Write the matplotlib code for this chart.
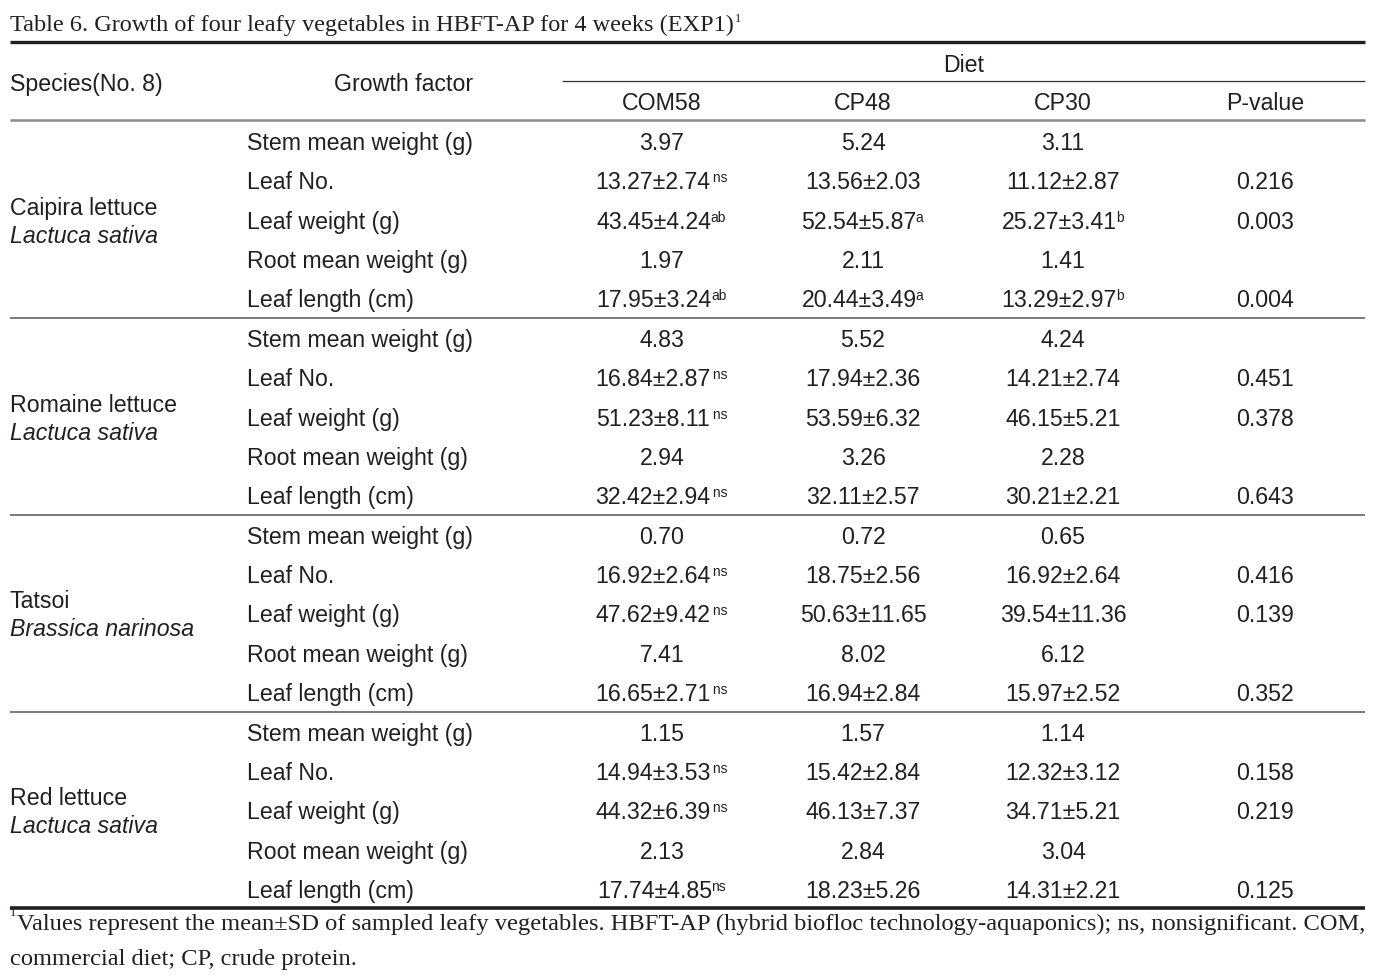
import matplotlib
matplotlib.use('Agg')
import matplotlib.pyplot as plt

# table contents
title = "Table 6. Growth of four leafy vegetables in HBFT-AP for 4 weeks (EXP1)"
diets = ["COM58", "CP48", "CP30"]
factors = ["Stem mean weight (g)", "Leaf No.", "Leaf weight (g)",
           "Root mean weight (g)", "Leaf length (cm)"]
species = ["Caipira lettuce", "Romaine lettuce", "Tatsoi", "Red lettuce"]
latin = ["Lactuca sativa", "Lactuca sativa", "Brassica narinosa", "Lactuca sativa"]

com58 = [["3.97", "13.27±2.74", "43.45±4.24", "1.97", "17.95±3.24"],
         ["4.83", "16.84±2.87", "51.23±8.11", "2.94", "32.42±2.94"],
         ["0.70", "16.92±2.64", "47.62±9.42", "7.41", "16.65±2.71"],
         ["1.15", "14.94±3.53", "44.32±6.39", "2.13", "17.74±4.85"]]
com58_sup = [["", " ns", "ab", "", "ab"],
             ["", " ns", " ns", "", " ns"],
             ["", " ns", " ns", "", " ns"],
             ["", " ns", " ns", "", "ns"]]
cp48 = [["5.24", "13.56±2.03", "52.54±5.87", "2.11", "20.44±3.49"],
        ["5.52", "17.94±2.36", "53.59±6.32", "3.26", "32.11±2.57"],
        ["0.72", "18.75±2.56", "50.63±11.65", "8.02", "16.94±2.84"],
        ["1.57", "15.42±2.84", "46.13±7.37", "2.84", "18.23±5.26"]]
cp48_sup = [["", "", "a", "", "a"], [""] * 5, [""] * 5, [""] * 5]
cp30 = [["3.11", "11.12±2.87", "25.27±3.41", "1.41", "13.29±2.97"],
        ["4.24", "14.21±2.74", "46.15±5.21", "2.28", "30.21±2.21"],
        ["0.65", "16.92±2.64", "39.54±11.36", "6.12", "15.97±2.52"],
        ["1.14", "12.32±3.12", "34.71±5.21", "3.04", "14.31±2.21"]]
cp30_sup = [["", "", "b", "", "b"], [""] * 5, [""] * 5, [""] * 5]
pvals = [["", "0.216", "0.003", "", "0.004"],
         ["", "0.451", "0.378", "", "0.643"],
         ["", "0.416", "0.139", "", "0.352"],
         ["", "0.158", "0.219", "", "0.125"]]

foot1 = "Values represent the mean±SD of sampled leafy vegetables. HBFT-AP (hybrid biofloc technology-aquaponics); ns, nonsignificant. COM,"
foot2 = "commercial diet; CP, crude protein."

SANS = 'Liberation Sans'
SERIF = 'Liberation Serif'
INK = '#231f20'
FS = 16.7

fig = plt.figure(figsize=(13.84, 9.77), dpi=100)
ax = fig.add_axes([0, 0, 1, 1])
ax.set_xlim(0, 1384)
ax.set_ylim(977, 0)
ax.axis('off')
r = fig.canvas.get_renderer()


def width(t):
    return t.get_window_extent(r).width


def fit(t, target):
    # shrink/grow font so the line spans the target width
    t.set_fontsize(t.get_fontsize() * target / width(t))


def cell(cx, y, main, sup=""):
    t = ax.text(0, y, main, ha='left', va='baseline', fontsize=FS, family=SANS, color=INK)
    w = width(t)
    ws = 0
    s = None
    if sup:
        s = ax.text(0, y - 7, sup, ha='left', va='baseline', fontsize=FS * 0.6,
                    family=SANS, color=INK)
        ws = width(s)
    x0 = cx - (w + ws) / 2
    t.set_x(x0)
    if s is not None:
        s.set_x(x0 + w - 1)


# title
tt = ax.text(10, 31, title, ha='left', va='baseline', fontsize=18, family=SERIF, color=INK)
fit(tt, 724)
ax.text(10 + width(tt) + 1, 22, "1", ha='left', va='baseline', fontsize=9, family=SERIF, color=INK)

# rules
ax.plot([10, 1365], [42, 42], color=INK, lw=2.4, solid_capstyle='butt')
ax.plot([562, 1365], [81, 81], color='#333333', lw=0.9, solid_capstyle='butt')
ax.plot([10, 1365], [120, 120], color='#8c8c8c', lw=1.8, solid_capstyle='butt')
ax.plot([10, 1365], [908, 908], color=INK, lw=2.6, solid_capstyle='butt')

# header
cols = [662, 863, 1063, 1265]
ax.text(10, 91, "Species(No. 8)", ha='left', va='baseline', fontsize=FS, family=SANS, color=INK)
ax.text(404, 91, "Growth factor", ha='center', va='baseline', fontsize=FS, family=SANS, color=INK)
ax.text(964, 72, "Diet", ha='center', va='baseline', fontsize=FS, family=SANS, color=INK)
for cx, lab in zip(cols, diets + ["P-value"]):
    ax.text(cx, 110, lab, ha='center', va='baseline', fontsize=FS, family=SANS, color=INK)

# body
step = 39.37
for g in range(4):
    for i in range(5):
        k = g * 5 + i
        yb = 150 + step * k
        ax.text(247, yb, factors[i], ha='left', va='baseline', fontsize=FS, family=SANS, color=INK)
        cell(cols[0], yb, com58[g][i], com58_sup[g][i])
        cell(cols[1], yb, cp48[g][i], cp48_sup[g][i])
        cell(cols[2], yb, cp30[g][i], cp30_sup[g][i])
        cell(cols[3], yb, pvals[g][i])
    mid = 142 + step * (g * 5 + 2)
    ax.text(10, mid - 6, species[g], ha='left', va='baseline', fontsize=FS, family=SANS, color=INK)
    ax.text(10, mid + 22, latin[g], ha='left', va='baseline', fontsize=FS, family=SANS,
            style='italic', color=INK)
    if g < 3:
        ysep = 142 + step * (g * 5 + 4) + 19
        ax.plot([10, 1365], [ysep, ysep], color='#555555', lw=1.1, solid_capstyle='butt')

# footnote
ax.text(10, 916, "1", ha='left', va='baseline', fontsize=9, family=SERIF, color=INK)
f1 = ax.text(17, 930, foot1, ha='left', va='baseline', fontsize=16, family=SERIF, color=INK)
fit(f1, 1348)
ax.text(10, 965, foot2, ha='left', va='baseline', fontsize=f1.get_fontsize(), family=SERIF, color=INK)

fig.savefig('out.png', dpi=100, facecolor='white')
